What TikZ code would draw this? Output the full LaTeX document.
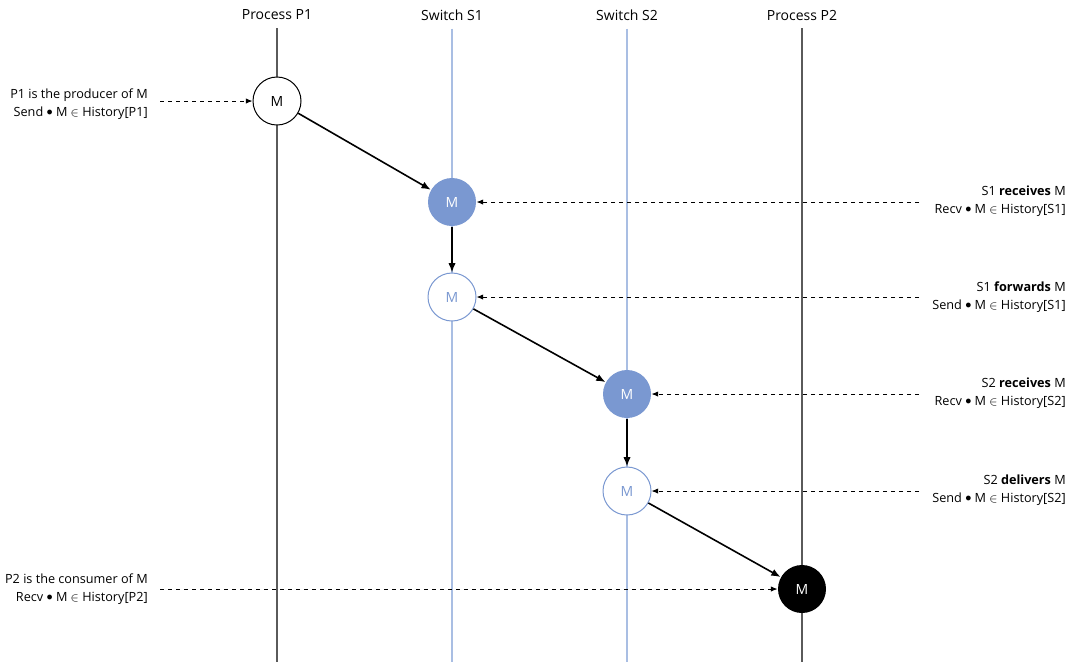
\documentclass[tikz,border=0pt]{standalone}
\usepackage{fontspec}
\setmainfont{Open Sans}
\usetikzlibrary{positioning,arrows.meta,calc}

\definecolor{swblue}{HTML}{7A98D1}
\definecolor{swline}{HTML}{A9BEE3}
\definecolor{procline}{HTML}{5A5A5A}

\newcommand{\hdot}{\raisebox{0.1ex}{$\bullet$}}

\begin{document}
\begin{tikzpicture}[x=0.75pt,y=-0.75pt,>=Latex,font=\fontsize{10.5}{13.5}\selectfont,
  head/.style={inner sep=6pt},
  msg/.style={circle,minimum size=36pt,inner sep=0pt,line width=0.75pt},
  note/.style={align=right,inner sep=0pt,font=\fontsize{9.5}{13.5}\selectfont},
  flow/.style={->,line width=1.2pt,>={Latex[length=7pt,width=5.5pt]}},
  hint/.style={->,dashed,line width=0.6pt,>={Latex[length=5pt,width=4pt]}}]
  \useasboundingbox[fill=white] (0,0) rectangle (1080,662);

  % lifelines
  \node[head] (hp1) at (277,15) {Process P1};
  \node[head] (hs1) at (452,15) {Switch S1};
  \node[head] (hs2) at (627,15) {Switch S2};
  \node[head] (hp2) at (802,15) {Process P2};
  \coordinate (ep1) at (277,662);
  \coordinate (es1) at (452,662);
  \coordinate (es2) at (627,662);
  \coordinate (ep2) at (802,662);
  \draw[procline,line width=0.8pt] (hp1.south) -- (ep1);
  \draw[swline,line width=0.8pt] (hs1.south) -- (es1);
  \draw[swline,line width=0.8pt] (hs2.south) -- (es2);
  \draw[procline,line width=0.8pt] (hp2.south) -- (ep2);

  % message M along the path
  \node[msg,draw=black,fill=white] (m1) at (277,101) {M};
  \node[msg,fill=swblue,text=white] (m2) at (452,202) {M};
  \node[msg,draw=swblue,fill=white,text=swblue] (m3) at (452,297) {M};
  \node[msg,fill=swblue,text=white] (m4) at (627,394) {M};
  \node[msg,draw=swblue,fill=white,text=swblue] (m5) at (627,491) {M};
  \node[msg,fill=black,text=white] (m6) at (802,589) {M};

  \draw[flow] (m1) -- (m2);
  \draw[flow] (m2) -- (m3);
  \draw[flow] (m3) -- (m4);
  \draw[flow] (m4) -- (m5);
  \draw[flow] (m5) -- (m6);

  % annotations
  \node[note,anchor=east] (n1) at (148,104) {P1 is the producer of M\\Send \hdot{} M {\small$\in$} History[P1]};
  \node[note,anchor=east] (n2) at (1066,201) {S1 \textbf{receives} M\\Recv \hdot{} M {\small$\in$} History[S1]};
  \node[note,anchor=east] (n3) at (1066,297) {S1 \textbf{forwards} M\\Send \hdot{} M {\small$\in$} History[S1]};
  \node[note,anchor=east] (n4) at (1066,393) {S2 \textbf{receives} M\\Recv \hdot{} M {\small$\in$} History[S2]};
  \node[note,anchor=east] (n5) at (1066,490) {S2 \textbf{delivers} M\\Send \hdot{} M {\small$\in$} History[S2]};
  \node[note,anchor=east] (n6) at (148,589) {P2 is the consumer of M\\Recv \hdot{} M {\small$\in$} History[P2]};

  \draw[hint] ($(m1.west -| n1.east)+(12,0)$) -- (m1.west);
  \draw[hint] ($(m2.east -| n3.west)+(-13,0)$) -- (m2.east);
  \draw[hint] ($(m3.east -| n3.west)+(-13,0)$) -- (m3.east);
  \draw[hint] ($(m4.east -| n5.west)+(-13,0)$) -- (m4.east);
  \draw[hint] ($(m5.east -| n5.west)+(-13,0)$) -- (m5.east);
  \draw[hint] ($(m6.west -| n6.east)+(12,0)$) -- (m6.west);
\end{tikzpicture}
\end{document}
